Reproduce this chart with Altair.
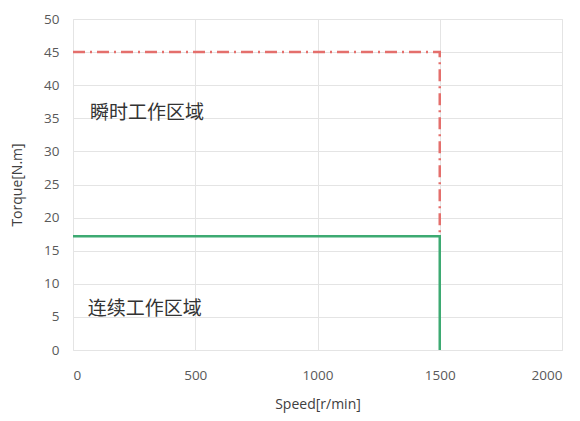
import altair as alt
import pandas as pd

# Series: peak (instantaneous) torque envelope and continuous torque envelope
peak_speed = [0, 1500, 1500]
peak_torque = [45, 45, 17.2]
cont_speed = [0, 1500, 1500]
cont_torque = [17.2, 17.2, 0]

# Annotation labels
region_labels = ["瞬时工作区域", "连续工作区域"]
region_speed = [70, 60]
region_torque = [35.8, 6.2]

x_ticks = [0, 500, 1000, 1500, 2000]
y_ticks = [0, 5, 10, 15, 20, 25, 30, 35, 40, 45, 50]

peak_df = pd.DataFrame({"speed": peak_speed, "torque": peak_torque, "order": range(len(peak_speed))})
cont_df = pd.DataFrame({"speed": cont_speed, "torque": cont_torque, "order": range(len(cont_speed))})
lab_df = pd.DataFrame({"speed": region_speed, "torque": region_torque, "label": region_labels})

xs = alt.Scale(domain=[0, 2000], nice=False)
ys = alt.Scale(domain=[0, 50], nice=False)

x_axis = alt.Axis(values=x_ticks, format="d", title="Speed[r/min]", labelPadding=18, titlePadding=16)
y_axis = alt.Axis(values=y_ticks, format="d", title="Torque[N.m]", labelPadding=14, titlePadding=19)

X = alt.X("speed:Q", scale=xs, axis=x_axis)
Y = alt.Y("torque:Q", scale=ys, axis=y_axis)

peak = alt.Chart(peak_df).mark_line(
    color="#E46F6C", strokeWidth=2.5, strokeDash=[12, 5, 2, 5]
).encode(x=X, y=Y, order="order:Q")

cont = alt.Chart(cont_df).mark_line(color="#3DAA72", strokeWidth=2.5).encode(
    x=X, y=Y, order="order:Q"
)

labels = alt.Chart(lab_df).mark_text(
    align="left", baseline="middle", fontSize=19, color="#333333",
    font="Noto Sans CJK SC"
).encode(x=X, y=Y, text="label:N")

chart = alt.layer(peak, cont, labels).properties(
    width=489, height=331,
    autosize=alt.AutoSizeParams(type="none"),
    padding={"left": 65, "top": 11, "right": 10, "bottom": 63},
).configure_view(
    stroke="#e4e4e4", strokeWidth=1
).configure_axis(
    domain=False, ticks=False, grid=True, gridColor="#e4e4e4", gridWidth=1,
    labelFont="Open Sans", labelFontSize=13.5, labelColor="#595959",
    titleFont="Open Sans", titleFontSize=14, titleColor="#404040", titleFontWeight="normal",
)

chart.save("out.html", embed_options={"renderer": "svg", "actions": False})
